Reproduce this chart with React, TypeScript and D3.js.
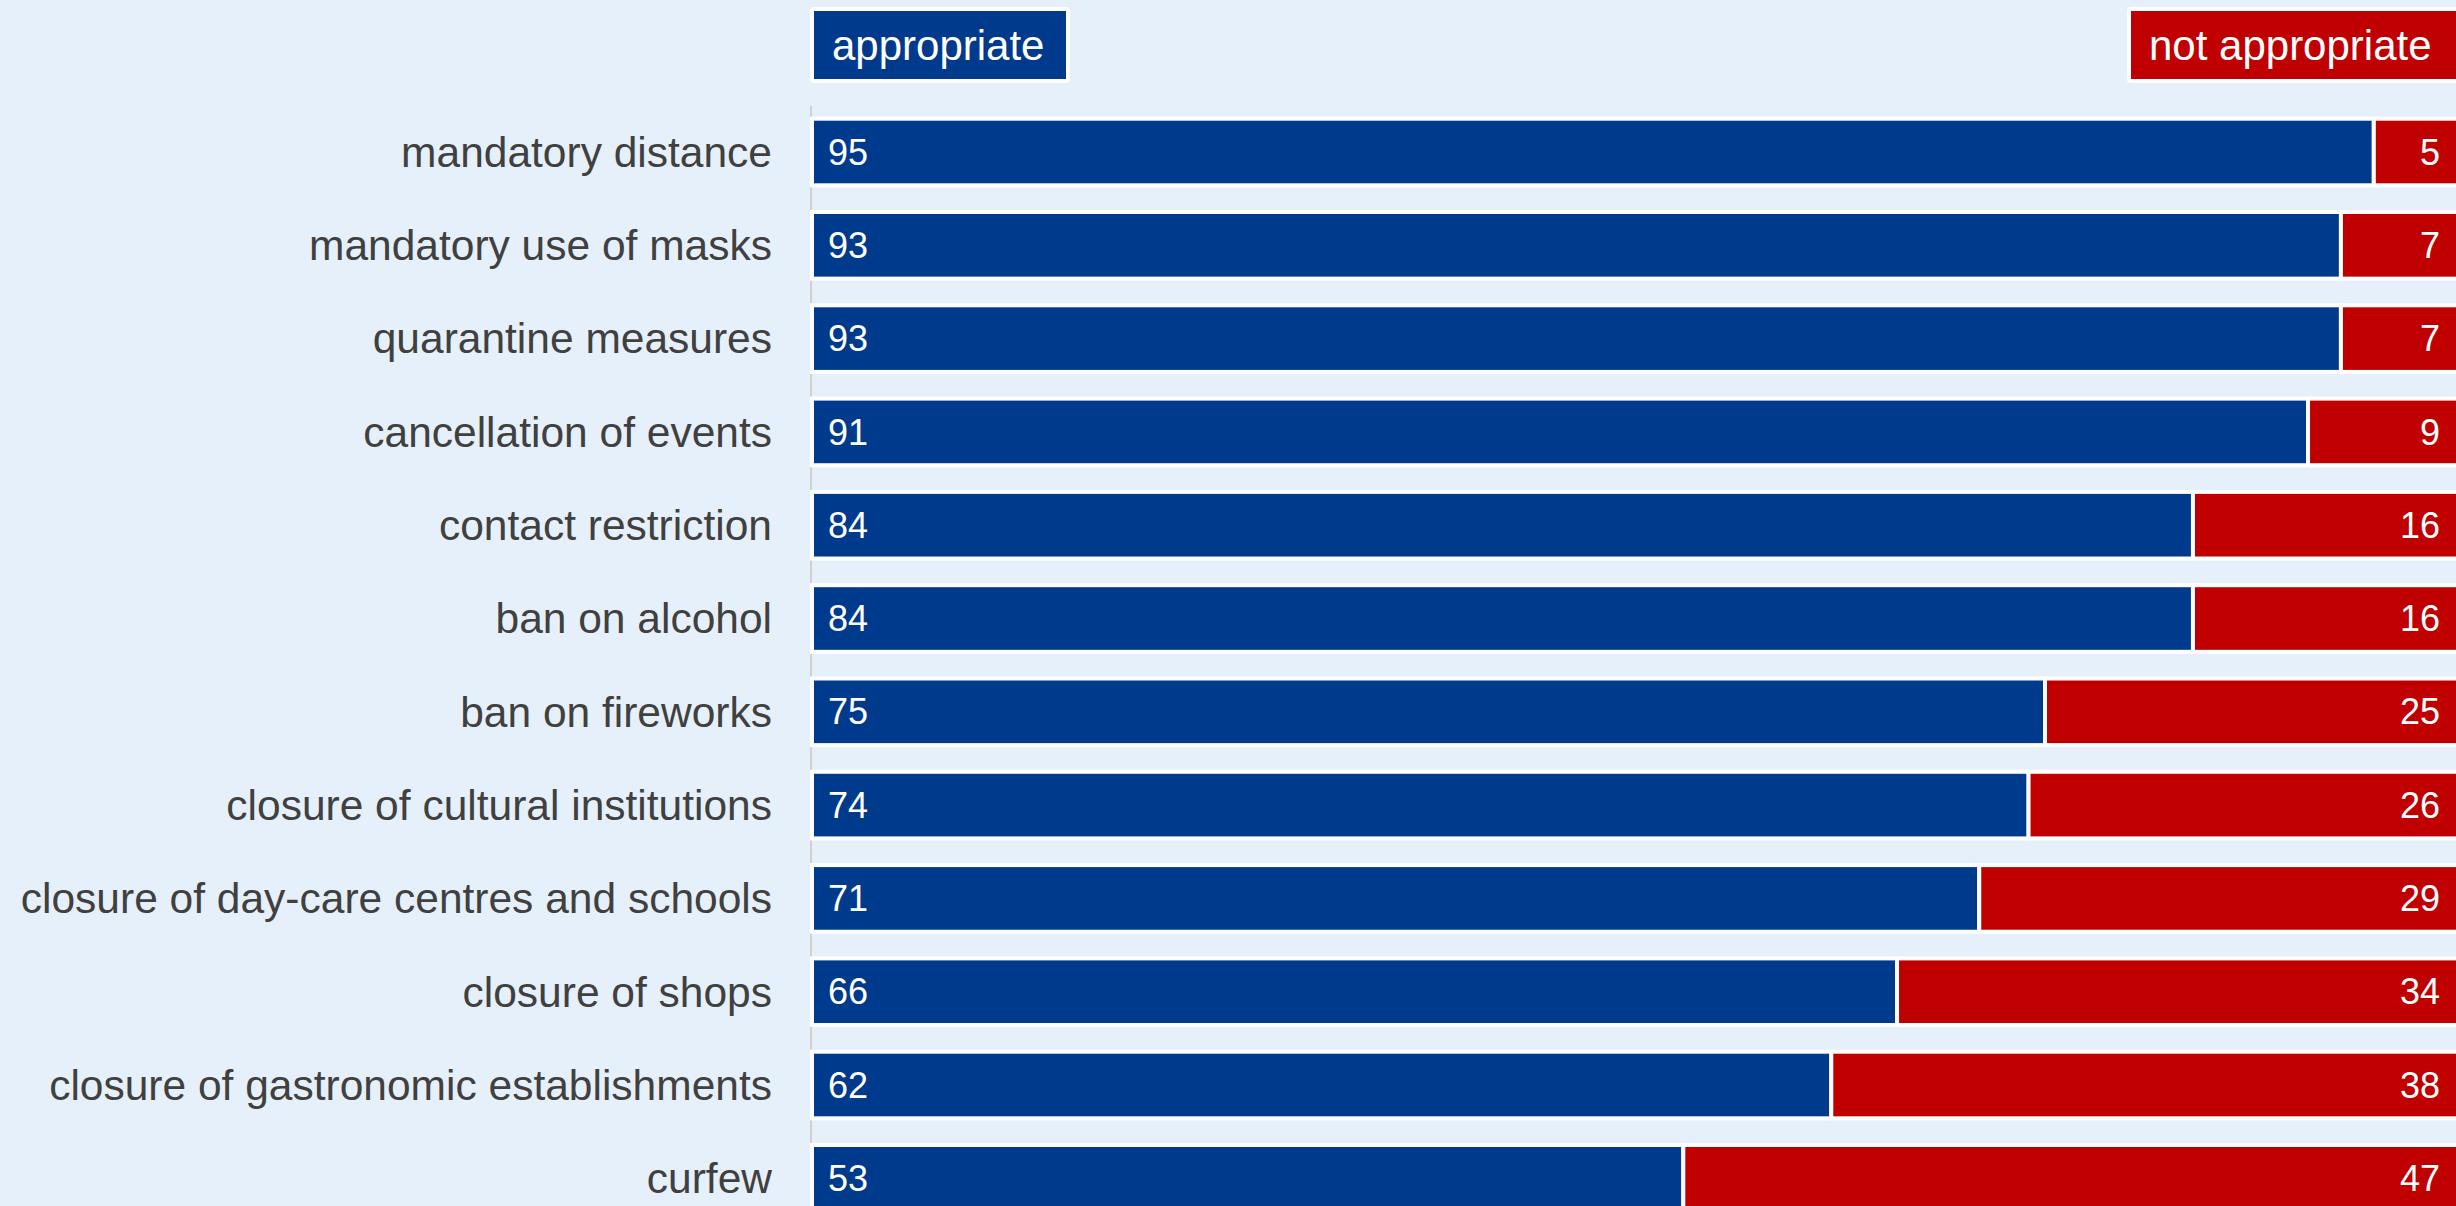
import { useEffect, useRef } from "react";
import * as d3 from "d3";

const categories = [
  "mandatory distance",
  "mandatory use of masks",
  "quarantine measures",
  "cancellation of events",
  "contact restriction",
  "ban on alcohol",
  "ban on fireworks",
  "closure of cultural institutions",
  "closure of day-care centres and schools",
  "closure of shops",
  "closure of gastronomic establishments",
  "curfew",
];
const appropriate = [95, 93, 93, 91, 84, 84, 75, 74, 71, 66, 62, 53];
const notAppropriate = [5, 7, 7, 9, 16, 16, 25, 26, 29, 34, 38, 47];
const seriesNames = ["appropriate", "not appropriate"];

const W = 2456;
const H = 1206;
const BLUE = "#003a8c";
const RED = "#c00000";
const BG = "#e6f0fa";

const App = () => {
  const ref = useRef<SVGSVGElement | null>(null);

  useEffect(() => {
    drawChart();
  }, []);

  const drawChart = () => {
    const svg = d3.select(ref.current);
    svg.selectAll("*").remove();

    const font = "'Liberation Sans', Arial, sans-serif";
    const left = 812;

    svg.append("rect").attr("width", W).attr("height", H).attr("fill", BG);

    const xScale = d3.scaleLinear().domain([0, 100]).range([left, W]);
    const yScale = d3
      .scaleBand()
      .domain(categories)
      .range([118.7, 118.7 + 93.3 * (12 - 0.286)])
      .paddingInner(0.286)
      .paddingOuter(0);

    // axis line
    svg
      .append("line")
      .attr("x1", left - 1)
      .attr("x2", left - 1)
      .attr("y1", 106)
      .attr("y2", H)
      .attr("stroke", "#d0d0d0")
      .attr("stroke-width", 2);

    const rows = categories.map((c, i) => ({ c, a: appropriate[i], n: notAppropriate[i] }));
    const g = svg.selectAll("g.row").data(rows).join("g").attr("class", "row");

    g.append("rect")
      .attr("x", xScale(0))
      .attr("y", (d) => yScale(d.c)!)
      .attr("width", (d) => xScale(d.a) - xScale(0))
      .attr("height", yScale.bandwidth())
      .attr("fill", BLUE)
      .attr("stroke", "#ffffff")
      .attr("stroke-width", 4);

    g.append("rect")
      .attr("x", (d) => xScale(d.a))
      .attr("y", (d) => yScale(d.c)!)
      .attr("width", (d) => xScale(100) - xScale(d.a) + 4)
      .attr("height", yScale.bandwidth())
      .attr("fill", RED)
      .attr("stroke", "#ffffff")
      .attr("stroke-width", 4);

    const cy = (d: any) => yScale(d.c)! + yScale.bandwidth() / 2;

    // category labels
    g.append("text")
      .attr("x", 772)
      .attr("y", cy)
      .attr("dy", "0.35em")
      .attr("text-anchor", "end")
      .attr("fill", "#404040")
      .style("font-family", font)
      .style("font-size", "42.5px")
      .text((d) => d.c);

    // values
    g.append("text")
      .attr("x", xScale(0) + 16)
      .attr("y", cy)
      .attr("dy", "0.35em")
      .attr("fill", "#ffffff")
      .style("font-family", font)
      .style("font-size", "36px")
      .text((d) => d.a);

    g.append("text")
      .attr("x", W - 16)
      .attr("y", cy)
      .attr("dy", "0.35em")
      .attr("text-anchor", "end")
      .attr("fill", "#ffffff")
      .style("font-family", font)
      .style("font-size", "36px")
      .text((d) => d.n);

    // legend
    const legend = [
      { name: seriesNames[0], color: BLUE, x: 812, w: 256 },
      { name: seriesNames[1], color: RED, x: 2129, w: 330 },
    ];
    const lg = svg.selectAll("g.legend").data(legend).join("g").attr("class", "legend");
    lg.append("rect")
      .attr("x", (d) => d.x)
      .attr("y", 9)
      .attr("width", (d) => d.w)
      .attr("height", 72)
      .attr("fill", (d) => d.color)
      .attr("stroke", "#ffffff")
      .attr("stroke-width", 4)
      .attr("rx", 2);
    lg.append("text")
      .attr("x", (d) => d.x + 20)
      .attr("y", 45)
      .attr("dy", "0.35em")
      .attr("fill", "#ffffff")
      .style("font-family", font)
      .style("font-size", "42px")
      .text((d) => d.name);
  };

  return (
    <div style={{ position: "fixed", left: 0, top: 0, width: W, height: H, background: BG }}>
      <svg ref={ref} width={W} height={H} style={{ display: "block" }} />
    </div>
  );
};

export default App;
